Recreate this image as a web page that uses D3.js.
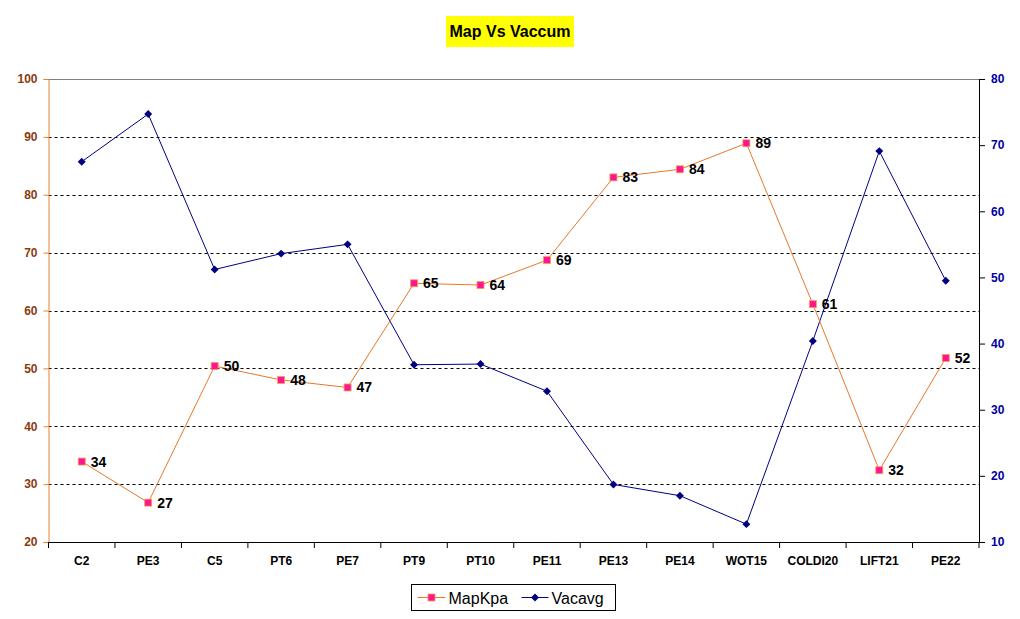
<!DOCTYPE html>
<meta charset="utf-8">
<script src="https://d3js.org/d3.v7.min.js"></script>
<style>
  body { margin: 0; background: #fff; }
  text { font-family: Arial, "Liberation Sans", sans-serif; }
</style>
<div id="chart"></div>
<script>

// chart data
var categories = ["C2", "PE3", "C5", "PT6", "PE7", "PT9", "PT10", "PE11", "PE13", "PE14", "WOT15", "COLDI20", "LIFT21", "PE22"];
var mapKpa = [33.9, 26.8, 50.4, 48.0, 46.7, 64.7, 64.4, 68.7, 83.0, 84.4, 88.9, 61.1, 32.4, 51.8];
var vacavg = [67.5, 74.7, 51.2, 53.6, 55.0, 36.8, 36.9, 32.8, 18.7, 17.0, 12.7, 40.4, 69.1, 49.5];
var leftTicks = [20, 30, 40, 50, 60, 70, 80, 90, 100];
var rightTicks = [10, 20, 30, 40, 50, 60, 70, 80];

var W = 1020, H = 619;
var margin = {top: 79, right: 41, bottom: 77, left: 48.5};
var width = W - margin.left - margin.right,
    height = H - margin.top - margin.bottom;

var svg = d3.select("#chart").append("svg")
    .attr("width", W)
    .attr("height", H);

var g = svg.append("g")
    .attr("transform", "translate(" + margin.left + "," + margin.top + ")");

var x = d3.scaleBand().domain(categories).range([0, width]);
var yL = d3.scaleLinear().domain([20, 100]).range([height, 0]);
var yR = d3.scaleLinear().domain([10, 80]).range([height, 0]);

// gridlines
g.selectAll(".grid")
  .data(leftTicks.filter(function(d) { return d > 20 && d < 100; }))
  .enter().append("line")
    .attr("x1", 0).attr("x2", width)
    .attr("y1", function(d) { return Math.round(yL(d)) + 0.5; })
    .attr("y2", function(d) { return Math.round(yL(d)) + 0.5; })
    .attr("stroke", "#000")
    .attr("stroke-dasharray", "3,3");

// top border
g.append("line")
    .attr("x1", 0).attr("x2", width)
    .attr("y1", 0.5).attr("y2", 0.5)
    .attr("stroke", "#808080");

// left axis
var leftAxis = g.append("g")
    .call(d3.axisLeft(yL).tickValues(leftTicks).tickSize(5).tickPadding(6));
leftAxis.select(".domain").attr("stroke", "#E8822E");
leftAxis.selectAll(".tick line").attr("stroke", "#E8822E");
leftAxis.selectAll("text")
    .attr("fill", "#8B3A0F")
    .style("font-size", "12px")
    .style("font-weight", "bold");

// right axis
var rightAxis = g.append("g")
    .attr("transform", "translate(" + width + ",0)")
    .call(d3.axisRight(yR).tickValues(rightTicks).tickSize(6).tickPadding(6));
rightAxis.selectAll("text")
    .attr("fill", "#0000A0")
    .style("font-size", "12px")
    .style("font-weight", "bold");

// bottom axis
var bottomAxis = g.append("g")
    .attr("transform", "translate(0," + height + ")")
    .call(d3.axisBottom(x).tickSize(0).tickPadding(14));
bottomAxis.selectAll("text")
    .attr("fill", "#000")
    .style("font-size", "12px")
    .style("font-weight", "bold");
bottomAxis.selectAll(".sep")
  .data(d3.range(categories.length + 1))
  .enter().append("line")
    .attr("x1", function(i) { return i * x.step(); })
    .attr("x2", function(i) { return i * x.step(); })
    .attr("y1", 0).attr("y2", 6)
    .attr("stroke", "#000");

var cx = function(i) { return x(categories[i]) + x.bandwidth() / 2; };

// Vacavg line
g.append("path")
    .datum(vacavg)
    .attr("fill", "none")
    .attr("stroke", "#000080")
    .attr("stroke-width", 1)
    .attr("d", d3.line().x(function(d, i) { return cx(i); }).y(function(d) { return yR(d); }));

g.selectAll(".diamond")
  .data(vacavg)
  .enter().append("path")
    .attr("d", d3.symbol().type(d3.symbolDiamond2).size(40))
    .attr("transform", function(d, i) { return "translate(" + cx(i) + "," + yR(d) + ")"; })
    .attr("fill", "#000080");

// MapKpa line
g.append("path")
    .datum(mapKpa)
    .attr("fill", "none")
    .attr("stroke", "#E8782A")
    .attr("stroke-width", 1)
    .attr("d", d3.line().x(function(d, i) { return cx(i); }).y(function(d) { return yL(d); }));

g.selectAll(".square")
  .data(mapKpa)
  .enter().append("rect")
    .attr("x", function(d, i) { return cx(i) - 3.5; })
    .attr("y", function(d) { return yL(d) - 3.5; })
    .attr("width", 7).attr("height", 7)
    .attr("fill", "#FF1493")
    .attr("stroke", "#F5A050")
    .attr("stroke-width", 0.8);

g.selectAll(".lbl")
  .data(mapKpa)
  .enter().append("text")
    .attr("x", function(d, i) { return cx(i) + 9; })
    .attr("y", function(d) { return yL(d) + 5; })
    .style("font-size", "14px")
    .style("font-weight", "bold")
    .attr("fill", "#000")
    .text(function(d) { return Math.round(d); });

// title
var title = svg.append("g");
title.append("rect")
    .attr("x", 446).attr("y", 16)
    .attr("width", 128).attr("height", 31)
    .attr("fill", "#FFFF00");
title.append("text")
    .attr("x", 510).attr("y", 37)
    .attr("text-anchor", "middle")
    .style("font-size", "16px")
    .style("font-weight", "bold")
    .text("Map Vs Vaccum");

// legend
var legend = svg.append("g").attr("transform", "translate(411.5,584.5)");
legend.append("rect")
    .attr("width", 204).attr("height", 26)
    .attr("fill", "#fff").attr("stroke", "#000");
legend.append("line")
    .attr("x1", 6).attr("x2", 34).attr("y1", 13).attr("y2", 13)
    .attr("stroke", "#E8782A");
legend.append("rect")
    .attr("x", 16.5).attr("y", 9.5).attr("width", 7).attr("height", 7)
    .attr("fill", "#FF1493").attr("stroke", "#F5A050").attr("stroke-width", 0.8);
legend.append("text")
    .attr("x", 37).attr("y", 19)
    .style("font-size", "16px")
    .text("MapKpa");
legend.append("line")
    .attr("x1", 110).attr("x2", 137).attr("y1", 13).attr("y2", 13)
    .attr("stroke", "#000080");
legend.append("path")
    .attr("d", d3.symbol().type(d3.symbolDiamond2).size(40))
    .attr("transform", "translate(123.5,13)")
    .attr("fill", "#000080");
legend.append("text")
    .attr("x", 140).attr("y", 19)
    .style("font-size", "16px")
    .text("Vacavg");

</script>
